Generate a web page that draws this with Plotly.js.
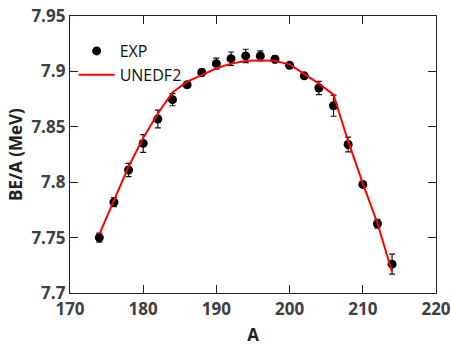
<!DOCTYPE html>
<html>
<head>
<meta charset="utf-8">
<script src="https://cdn.plot.ly/plotly-3.0.1.min.js"></script>
<style>html,body{margin:0;padding:0;background:#fff;}#chart{width:451px;height:346px;}</style>
</head>
<body>
<div id="chart"></div>
<script>
var massNumbers = [174,176,178,180,182,184,186,188,190,192,194,196,198,200,202,204,206,208,210,212,214];
var expBE = [7.750,7.782,7.811,7.835,7.857,7.8745,7.888,7.899,7.907,7.9115,7.914,7.914,7.911,7.9055,7.896,7.885,7.869,7.834,7.798,7.7625,7.726];
var expErr = [0.004,0.004,0.006,0.008,0.008,0.0055,0.002,0.003,0.005,0.006,0.006,0.0045,0.003,0.002,0.002,0.006,0.0095,0.0066,0.002,0.004,0.009];
var unedf2BE = [7.753,7.784,7.814,7.840,7.862,7.881,7.8907,7.8967,7.9028,7.907,7.9094,7.910,7.9094,7.9064,7.8977,7.889,7.879,7.837,7.799,7.763,7.719];
var xTicks = [170,180,190,200,210,220];
var yTicks = [7.7,7.75,7.8,7.85,7.9,7.95];
var yTickText = ['7.7','7.75','7.8','7.85','7.9','7.95'];

var traces = [
  {x: massNumbers, y: expBE, name: 'EXP', type: 'scatter', mode: 'markers',
   marker: {color: '#000', size: 9},
   error_y: {type: 'data', array: expErr, visible: true, color: '#111', thickness: 1.2, width: 3}},
  {x: massNumbers, y: unedf2BE, name: 'UNEDF2', type: 'scatter', mode: 'lines',
   line: {color: '#ff0000', width: 2}}
];
var tickFont = {family: 'Open Sans', size: 17, color: '#404040', weight: 'bold'};
var layout = {
  width: 451, height: 346,
  margin: {l: 70, r: 15, t: 16, b: 53},
  paper_bgcolor: '#fff', plot_bgcolor: '#fff',
  showlegend: true,
  legend: {x: 0.01, y: 0.935, xanchor: 'left', yanchor: 'top', bgcolor: 'rgba(0,0,0,0)', itemwidth: 36,
           font: {family: 'Open Sans', size: 16, color: '#111'}, tracegroupgap: 0},
  xaxis: {range: [170, 220], tickvals: xTicks, ticks: 'inside', ticklen: 8, tickcolor: '#222',
          showline: true, linecolor: '#222', linewidth: 1.2, mirror: 'ticks', showgrid: false, zeroline: false,
          tickfont: tickFont,
          title: {text: 'A', font: {family: 'Open Sans', size: 17, color: '#222', weight: 'bold'}, standoff: 11}},
  yaxis: {range: [7.7, 7.95], tickvals: yTicks, ticktext: yTickText, ticks: 'inside', ticklen: 8, tickcolor: '#222',
          showline: true, linecolor: '#222', linewidth: 1.2, mirror: 'ticks', showgrid: false, zeroline: false,
          tickfont: tickFont,
          title: {text: 'BE/A (MeV)', font: {family: 'Open Sans', size: 17, color: '#222', weight: 'bold'}, standoff: 4}}
};
Plotly.newPlot('chart', traces, layout, {displayModeBar: false, staticPlot: true});
</script>
</body>
</html>
